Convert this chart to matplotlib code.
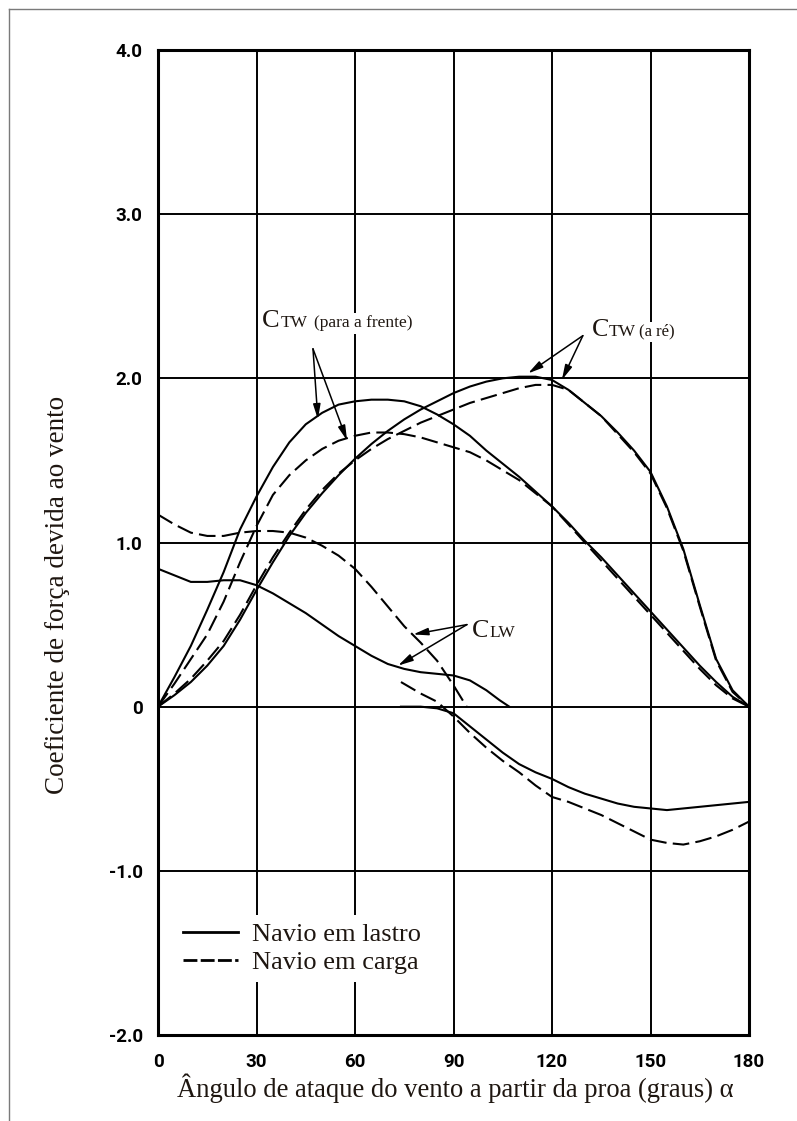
import matplotlib
matplotlib.use("Agg")
import matplotlib.pyplot as plt
from matplotlib.lines import Line2D

# Coeficientes de força do vento, angulo a partir da proa (graus)
ang = [0, 5, 10, 15, 20, 25, 30, 35, 40, 45, 50, 55, 60, 65, 70, 75, 80, 85, 90,
       95, 100, 105, 110, 115, 120, 125, 130, 135, 140, 145, 150, 155, 160, 165,
       170, 175, 180]

# CTW (para a frente)
ctw_frente_lastro = [0, 0.18, 0.37, 0.59, 0.82, 1.08, 1.28, 1.46, 1.61, 1.72, 1.79,
                     1.84, 1.86, 1.87, 1.87, 1.86, 1.83, 1.78, 1.72, 1.65, 1.56, 1.48,
                     1.40, 1.31, 1.22, 1.12, 1.01, 0.91, 0.80, 0.69, 0.58, 0.47, 0.36,
                     0.25, 0.15, 0.06, 0]
ctw_frente_carga = [0, 0.14, 0.29, 0.44, 0.64, 0.88, 1.10, 1.29, 1.41, 1.50, 1.57,
                    1.62, 1.65, 1.67, 1.67, 1.66, 1.64, 1.61, 1.58, 1.55, 1.50, 1.44,
                    1.38, 1.30, 1.22, 1.11, 1.00, 0.89, 0.78, 0.67, 0.56, 0.45, 0.34,
                    0.23, 0.13, 0.05, 0]

# CTW (a re)
ctw_re_lastro = [0, 0.07, 0.15, 0.25, 0.37, 0.53, 0.71, 0.88, 1.04, 1.18, 1.30,
                 1.41, 1.51, 1.60, 1.68, 1.75, 1.81, 1.86, 1.91, 1.95, 1.98, 2.00,
                 2.01, 2.01, 1.99, 1.93, 1.85, 1.77, 1.67, 1.56, 1.43, 1.22, 0.96,
                 0.62, 0.29, 0.10, 0]
ctw_re_carga = [0, 0.08, 0.17, 0.28, 0.40, 0.56, 0.74, 0.91, 1.06, 1.20, 1.32,
                1.42, 1.50, 1.57, 1.63, 1.68, 1.73, 1.77, 1.81, 1.85, 1.88, 1.91,
                1.94, 1.96, 1.96, 1.93, 1.85, 1.77, 1.66, 1.55, 1.42, 1.21, 0.95,
                0.61, 0.28, 0.09, 0]

# CLW, dois ramos para cada condicao
clw_lastro_x1 = [0, 5, 10, 15, 20, 25, 30, 35, 40, 45, 50, 55, 60, 65, 70, 75, 80,
                 85, 90, 95, 100, 104, 107]
clw_lastro_y1 = [0.84, 0.80, 0.76, 0.76, 0.77, 0.77, 0.74, 0.69, 0.63, 0.57, 0.50,
                 0.43, 0.37, 0.31, 0.26, 0.23, 0.21, 0.20, 0.19, 0.16, 0.10, 0.04, 0]
clw_lastro_x2 = [74, 80, 85, 90, 95, 100, 105, 110, 115, 120, 125, 130, 135, 140,
                 145, 150, 155, 160, 165, 170, 175, 180]
clw_lastro_y2 = [0, 0, -0.01, -0.04, -0.12, -0.2, -0.28, -0.35, -0.40, -0.44, -0.49,
                 -0.53, -0.56, -0.59, -0.61, -0.62, -0.63, -0.62, -0.61, -0.60,
                 -0.59, -0.58]
clw_carga_x1 = [0, 5, 10, 15, 20, 25, 30, 35, 40, 45, 50, 55, 60, 65, 70, 75, 80,
                85, 90, 94]
clw_carga_y1 = [1.17, 1.11, 1.06, 1.04, 1.04, 1.06, 1.07, 1.07, 1.06, 1.03, 0.98,
                0.92, 0.84, 0.73, 0.61, 0.49, 0.39, 0.28, 0.13, 0]
clw_carga_x2 = [74, 80, 85, 90, 95, 100, 105, 110, 115, 120, 125, 130, 135, 140,
                145, 150, 155, 160, 165, 170, 175, 180]
clw_carga_y2 = [0.15, 0.08, 0.03, -0.06, -0.16, -0.25, -0.33, -0.40, -0.48, -0.55,
                -0.58, -0.62, -0.66, -0.71, -0.76, -0.81, -0.83, -0.84, -0.82,
                -0.79, -0.75, -0.70]

x_ticks = [0, 30, 60, 90, 120, 150, 180]
y_ticks = [-2, -1, 0, 1, 2, 3, 4]
y_tick_labels = ["-2.0", "-1.0", "0", "1.0", "2.0", "3.0", "4.0"]

serif = ["Liberation Serif", "DejaVu Serif"]
tick_font = ["Roboto", "DejaVu Sans"]
txt_color = "#1e1610"
dash = (0, (8, 3))

W, H = 797, 1121
fig = plt.figure(figsize=(W / 100, H / 100), dpi=100)
ax = fig.add_axes([158 / W, 1 - 1035 / H, (749 - 158) / W, (1035 - 50) / H])

ax.set_xlim(0, 180)
ax.set_ylim(-2, 4)
ax.set_xticks(x_ticks)
ax.set_yticks(y_ticks)
ax.set_yticklabels(y_tick_labels)
ax.grid(True, color="black", lw=1.4)
ax.set_axisbelow(True)
for s in ax.spines.values():
    s.set_linewidth(2.2)
ax.tick_params(length=0)
ax.tick_params(axis="y", pad=11)
ax.tick_params(axis="x", pad=13)
for lab in ax.get_xticklabels() + ax.get_yticklabels():
    lab.set_family(tick_font)
    lab.set_fontweight("bold")
    lab.set_fontsize(13.5)

lw = 1.5
ax.plot(ang, ctw_frente_lastro, color="black", lw=lw)
ax.plot(ang, ctw_frente_carga, color="black", lw=lw, ls=dash)
ax.plot(ang, ctw_re_lastro, color="black", lw=lw)
ax.plot(ang, ctw_re_carga, color="black", lw=lw, ls=dash)
ax.plot(clw_lastro_x1, clw_lastro_y1, color="black", lw=lw)
ax.plot(clw_lastro_x2, clw_lastro_y2, color="black", lw=lw)
ax.plot(clw_carga_x1, clw_carga_y1, color="black", lw=lw, ls=dash)
ax.plot(clw_carga_x2, clw_carga_y2, color="black", lw=lw, ls=dash)

white = dict(fc="white", ec="none", pad=1.5)


def label(parts, y):
    # parts: (x, texto, tamanho)
    for x, s, size in parts:
        ax.text(x, y, s, fontsize=size, family=serif, color=txt_color,
                va="baseline", ha="left", bbox=white, zorder=4)


def arrows(start, heads):
    for h in heads:
        ax.annotate("", xy=h, xytext=start,
                    arrowprops=dict(arrowstyle="-|>,head_length=0.9,head_width=0.22",
                                    color="black", lw=1.1, shrinkA=0, shrinkB=0),
                    zorder=5)


label([(31.7, "C", 19), (37.4, "TW", 12.5), (47.6, "(para a frente)", 12.5)], 2.31)
arrows((47.2, 2.18), [(48.7, 1.75), (57.6, 1.62)])

label([(132.2, "C", 19), (137.4, "TW", 12.5), (146.6, "(a ré)", 12)], 2.26)
arrows((129.4, 2.26), [(112.7, 2.03), (123.0, 1.99)])

label([(95.6, "C", 19), (100.8, "LW", 12.5)], 0.425)
arrows((94.1, 0.50), [(77.7, 0.44), (73.1, 0.25)])

handles = [Line2D([], [], color="black", lw=2),
           Line2D([], [], color="black", lw=2, ls=(0, (5, 1.2)))]
leg = ax.legend(handles, ["Navio em lastro", "Navio em carga"], loc="lower left",
                bbox_to_anchor=(0.029, 0.054), borderaxespad=0, frameon=True,
                fancybox=False, edgecolor="none", facecolor="white", framealpha=1,
                prop=dict(family=serif, size=19), labelcolor=txt_color,
                handlelength=2.1, handletextpad=0.5, labelspacing=0.15,
                borderpad=0.3)

fig.text(57 / W, 1 - 595 / H, "Coeficiente de força devida ao vento", rotation=90,
         ha="center", va="center", family=serif, fontsize=19.5, color=txt_color)
fig.text(455 / W, 1 - 1088 / H,
         "Ângulo de ataque do vento a partir da proa (graus) α",
         ha="center", va="center", family=serif, fontsize=19.2, color=txt_color)

# moldura fina da pagina
fig.add_artist(Line2D([9 / W, 9 / W], [0, 1 - 9 / H], transform=fig.transFigure,
                      color="#7a7a7a", lw=1))
fig.add_artist(Line2D([9 / W, 1], [1 - 9 / H, 1 - 9 / H], transform=fig.transFigure,
                      color="#7a7a7a", lw=1))

fig.savefig("out.png", dpi=100)
